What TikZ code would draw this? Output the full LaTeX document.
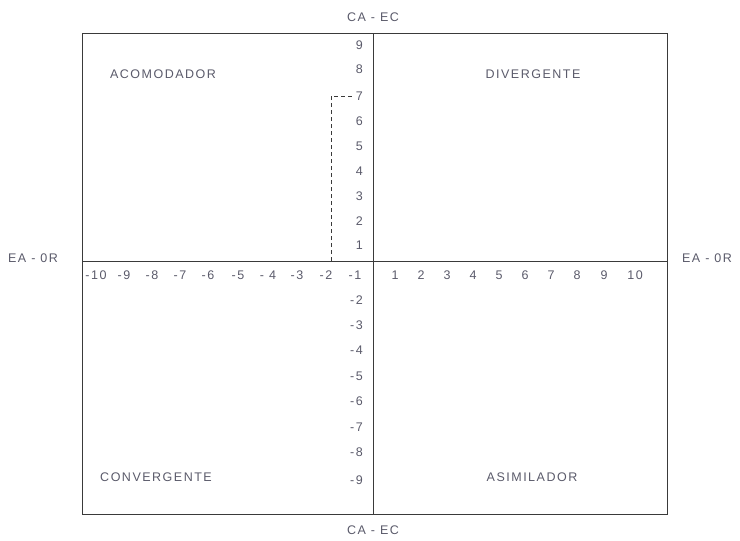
\documentclass[tikz,border=0pt]{standalone}
\usepackage{fontspec}
\setmainfont[LetterSpace=12]{Liberation Sans}
\definecolor{txt}{HTML}{5A5A6A}
\definecolor{ln}{HTML}{3A3A3A}
\begin{document}
\begin{tikzpicture}[x=1pt,y=-1pt,
  lbl/.style={font=\fontsize{12.5}{14}\selectfont, text=txt, inner sep=0pt},
  tick/.style={font=\fontsize{12.5}{14}\selectfont, text=txt, inner sep=0pt},
  ytick/.style={tick, anchor=east},
  frame/.style={draw=ln, line width=1pt},
  axis/.style={draw=ln, line width=1pt},
  guide/.style={draw=ln, line width=0.8pt, dash pattern=on 4pt off 3pt}]
\useasboundingbox (0,0) rectangle (740,541);
% frame
\node[frame, minimum width=585pt, minimum height=481pt, inner sep=0pt, anchor=north west] (box) at (82,33) {};
% axes
\coordinate (top) at (373,33);
\coordinate (bot) at (373,514);
\coordinate (lft) at (82,261);
\coordinate (rgt) at (667,261);
\draw[axis] (top) -- (bot);
\draw[axis] (lft) -- (rgt);
% axis titles
\node[lbl] (ttop) at (373,17) {CA - EC};
\node[lbl] (tbot) at (373,530) {CA - EC};
\node[lbl] (tlft) at (33,258) {EA - 0R};
\node[lbl] (trgt) at (707,258) {EA - 0R};
% quadrant titles
\node[lbl] (acom) at (163,74) {ACOMODADOR};
\node[lbl] (dive) at (533,74) {DIVERGENTE};
\node[lbl] (conv) at (156,477) {CONVERGENTE};
\node[lbl] (asim) at (532,477) {ASIMILADOR};
% positive y ticks
\node[ytick] (y9) at (363,45) {9};
\node[ytick] (y8) at (363,69) {8};
\node[ytick] (y7) at (363,96) {7};
\node[ytick] (y6) at (363,121) {6};
\node[ytick] (y5) at (363,146) {5};
\node[ytick] (y4) at (363,171) {4};
\node[ytick] (y3) at (363,196) {3};
\node[ytick] (y2) at (363,221) {2};
\node[ytick] (y1) at (363,245) {1};
% negative y ticks
\node[ytick] (ym2) at (363,300) {-2};
\node[ytick] (ym3) at (363,325) {-3};
\node[ytick] (ym4) at (363,350) {-4};
\node[ytick] (ym5) at (363,376) {-5};
\node[ytick] (ym6) at (363,401) {-6};
\node[ytick] (ym7) at (363,427) {-7};
\node[ytick] (ym8) at (363,452) {-8};
\node[ytick] (ym9) at (363,480) {-9};
% negative x ticks
\node[tick] (xm10) at (96,275) {-10};
\node[tick] (xm9) at (124,275) {-9};
\node[tick] (xm8) at (152,275) {-8};
\node[tick] (xm7) at (180,275) {-7};
\node[tick] (xm6) at (208,275) {-6};
\node[tick] (xm5) at (238,275) {-5};
\node[tick] (xm4) at (268,275) {- 4};
\node[tick] (xm3) at (297,275) {-3};
\node[tick] (xm2) at (326,275) {-2};
\node[tick] (xm1) at (355,275) {-1};
% positive x ticks
\node[tick] (x1) at (395,275) {1};
\node[tick] (x2) at (421,275) {2};
\node[tick] (x3) at (447,275) {3};
\node[tick] (x4) at (473,275) {4};
\node[tick] (x5) at (499,275) {5};
\node[tick] (x6) at (525,275) {6};
\node[tick] (x7) at (551,275) {7};
\node[tick] (x8) at (577,275) {8};
\node[tick] (x9) at (604,275) {9};
\node[tick] (x10) at (635,275) {10};
% dashed guide
\coordinate (gb) at (331,261);
\coordinate (gc) at (331,96);
\draw[guide] (gb) -- (gc) -- ([xshift=-1pt]y7.west);
\end{tikzpicture}
\end{document}
